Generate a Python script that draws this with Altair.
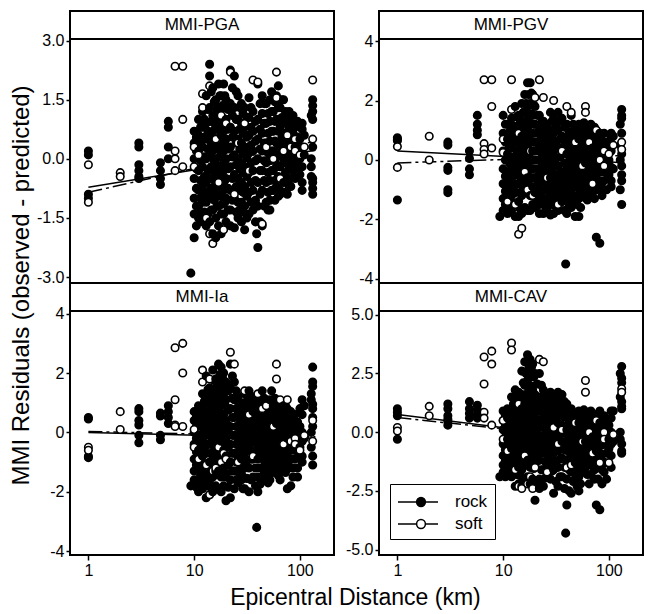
import altair as alt
import pandas as pd

FONT = "Liberation Sans"

# ---------------- data ----------------
# epicentral distance (km) of each record, grouped by column of points
distance_km = [
    1, 1, 1, 1, 1, 1,
    2, 2,
    3, 3, 3, 3, 3, 3,
    4.8, 4.8, 4.8, 4.8,
    5.7, 5.7, 5.7, 5.7,
    6.6, 6.6, 6.6, 6.6,
    7.8, 7.8, 7.8,
    9.3,
    10, 10, 10, 10, 10, 10, 10, 10, 10,
    11, 11, 11, 11, 11, 11, 11, 11,
    12, 12, 12, 12, 12, 12, 12, 12, 12,
    13, 13, 13, 13, 13, 13, 13, 13,
    14, 14, 14, 14, 14, 14, 14, 14, 14, 14,
    15, 15, 15, 15, 15, 15, 15, 15, 15,
    16, 16, 16, 16, 16, 16, 16, 16, 16,
    17, 17, 17, 17, 17, 17, 17, 17, 17,
    18, 18, 18, 18, 18, 18, 18, 18, 18,
    19, 19, 19, 19, 19, 19, 19, 19,
    20, 20, 20, 20, 20, 20, 20, 20,
    22, 22, 22, 22, 22, 22, 22, 22, 22,
    24, 24, 24, 24, 24, 24, 24, 24,
    26, 26, 26, 26, 26, 26, 26, 26,
    28, 28, 28, 28, 28, 28, 28,
    30, 30, 30, 30, 30, 30, 30, 30,
    33, 33, 33, 33, 33, 33, 33, 33,
    36, 36, 36, 36, 36, 36, 36,
    39,
    40, 40, 40, 40, 40, 40, 40, 40,
    44, 44, 44, 44, 44, 44, 44, 44,
    48, 48, 48, 48, 48, 48, 48,
    52, 52, 52, 52, 52, 52, 52,
    56, 56, 56, 56, 56, 56,
    60, 60, 60, 60, 60, 60, 60,
    65, 65, 65, 65, 65, 65, 65,
    70, 70, 70, 70, 70, 70,
    76, 76, 76, 76, 76, 76,
    82, 82, 82, 82, 82, 82,
    90, 90, 90, 90, 90, 90,
    100, 100, 100, 100,
    110, 110, 110,
    132, 132, 132, 132, 132, 132, 132, 132, 132, 132, 132,
]

# r = rock (filled), s = soft (open), same order as distance_km
site_code = (
    "rrrrss" "ss" "rrrrrr" "rrrr" "rrrr" "ssss" "sss" "r"
    "rrrrrrrss" "rrrrrrrs" "rrrrrrrss" "rrrrrrrs" "rrrrrrrrss"
    "rrrrrrrrs" "rrrrrrrrs" "rrrrrrrrs" "rrrrrrrrs" "rrrrrrrs"
    "rrrrrrrs" "rrrrrrrrs" "rrrrrrrs" "rrrrrrrs" "rrrrrrr"
    "rrrrrrrs" "rrrrrrrs" "rrrrrrs" "r" "rrrrrrrs" "rrrrrrrs"
    "rrrrrrs" "rrrrrrr" "rrrrrs" "rrrrrss" "rrrrrrs" "rrrrrs"
    "rrrrrs" "rrrrrs" "rrrrss" "rrrs" "rrs" "rrrrrrrrrss"
)

res_pga = [
    0.2, 0.1, -0.9, -1.0, -0.15, -1.1,
    -0.35, -0.45,
    0.4, 0.3, -0.15, -0.3, -0.45, -0.5,
    -0.1, -0.3, -0.5, -0.65,
    0.95, 0.8, 0.3, 0.0,
    2.35, 0.2, 0.0, -0.3,
    2.35, 1.0, -0.2,
    -2.9,
    0.7, 0.4, 0.0, -0.5, -1.0, -1.4, -2.0, 0.3, -0.2,
    1.0, 0.6, 0.2, -0.3, -0.8, -1.2, -1.5, 0.1,
    1.2, 0.8, 0.3, -0.2, -0.7, -1.1, -1.6, 1.65, 1.3,
    1.6, 0.9, 0.5, 0.0, -0.6, -1.1, -1.7, -1.5,
    2.4, 2.1, 1.3, 0.6, 0.1, -0.5, -1.0, -1.6, 1.85, -1.9,
    1.8, 1.1, 0.7, 0.2, -0.3, -0.8, -1.3, -1.9, -2.15,
    1.5, 1.0, 0.5, 0.0, -0.4, -0.9, -1.5, -2.0, 0.5,
    1.9, 1.3, 0.8, 0.3, -0.2, -0.7, -1.2, -1.7, -0.6,
    1.6, 1.1, 0.6, 0.1, -0.4, -0.9, -1.4, -1.9, 1.1,
    1.9, 1.3, 0.7, 0.2, -0.3, -0.8, -1.4, -1.8,
    1.5, 1.0, 0.5, 0.0, -0.5, -1.0, -1.6, 0.9,
    2.25, 1.4, 0.8, 0.3, -0.2, -0.8, -1.3, -1.7, 2.2,
    2.1, 1.3, 0.7, 0.1, -0.4, -1.0, -1.75, -0.9,
    1.6, 1.0, 0.5, 0.0, -0.5, -1.1, -1.5, 0.4,
    1.4, 0.9, 0.4, -0.1, -0.6, -1.1, -1.6,
    1.3, 0.8, 0.3, -0.2, -0.7, -1.2, -1.8, 0.9,
    1.55, 1.05, 0.6, 0.15, -0.35, -0.85, -1.4, -0.3,
    1.2, 0.7, 0.2, -0.3, -0.8, -1.3, 2.0,
    -1.9,
    1.9, 1.0, 0.5, 0.0, -0.6, -1.2, -2.25, 1.95,
    1.6, 1.15, 0.65, 0.2, -0.3, -0.8, -1.7, -1.65,
    1.4, 0.9, 0.4, -0.1, -0.6, -1.1, 0.3,
    1.5, 0.95, 0.45, -0.05, -0.55, -1.05, -1.3,
    1.2, 0.7, 0.2, -0.3, -0.8, 0.0,
    1.6, 1.0, 0.4, -0.2, -0.7, 2.2, 1.55,
    1.3, 0.8, 0.3, -0.2, -0.8, -0.9, -0.5,
    1.5, 0.9, 0.4, -0.1, -0.6, 0.2,
    1.0, 0.5, 0.0, -0.5, -0.9, 0.6,
    0.9, 0.4, -0.1, -0.5, -0.7, 0.3,
    0.8, 0.3, -0.2, -0.5, 0.5, 0.2,
    0.5, 0.0, -0.4, 0.1,
    0.6, 0.1, 0.3,
    1.5, 1.35, 1.2, 1.0, 0.3, -0.5, -0.6, -0.75, -0.9, 2.0, 0.5,
]

res_pgv = [
    0.75, 0.65, -1.35, 0.7, 0.45, -0.25,
    0.8, 0.0,
    0.6, 0.5, -0.25, -0.35, -1.0, -1.1,
    0.3, 0.05, -0.3, -0.5,
    1.5, 1.2, 1.0, 0.85,
    2.7, 0.55, 0.35, 0.2,
    2.7, 1.8, 0.4,
    -1.9,
    1.5, 0.9, 0.3, -0.3, -0.8, -1.3, -1.7, 0.7, 0.25,
    1.2, 0.7, 0.2, -0.4, -0.9, -1.3, -1.8, -1.4,
    1.4, 0.9, 0.4, -0.2, -0.7, -1.2, -1.7, 2.7, 1.7,
    1.8, 1.1, 0.6, 0.0, -0.5, -1.1, -1.9, -1.5,
    1.5, 1.0, 0.7, 0.2, -0.3, -0.8, -1.4, -1.9, 0.9, -2.5,
    1.9, 1.3, 0.8, 0.3, -0.2, -0.7, -1.2, -1.8, -2.3,
    2.2, 1.6, 1.0, 0.4, -0.1, -0.6, -1.1, -1.6, -0.4,
    2.6, 1.8, 1.1, 0.5, -0.1, -0.6, -1.1, -1.7, -1.0,
    2.6, 1.9, 1.2, 0.6, 0.0, -0.6, -1.2, -1.7, 0.3,
    2.2, 1.5, 0.9, 0.3, -0.3, -0.9, -1.5, -1.2,
    1.8, 1.2, 0.6, 0.0, -0.6, -1.1, -1.6, 2.1,
    1.5, 1.0, 0.5, 0.0, -0.5, -1.0, -1.5, -1.8, 2.7,
    1.3, 0.8, 0.3, -0.2, -0.7, -1.3, -1.8, 2.1,
    1.2, 0.7, 0.2, -0.3, -0.8, -1.3, -1.7, -0.6,
    1.6, 1.0, 0.4, -0.1, -0.6, -1.2, -1.85,
    1.4, 0.9, 0.3, -0.2, -0.8, -1.3, -1.8, 2.0,
    1.6, 1.0, 0.4, -0.2, -0.7, -1.2, -1.7, -1.5,
    1.4, 0.8, 0.2, -0.4, -0.9, -1.4, 0.3,
    -3.5,
    1.2, 0.7, 0.2, -0.3, -0.8, -1.3, -1.8, 1.8,
    1.5, 0.9, 0.4, -0.1, -0.6, -1.1, -1.6, 1.6,
    1.1, 0.6, 0.1, -0.4, -0.9, -1.9, 0.6,
    1.2, 0.7, 0.2, -0.3, -0.8, -1.3, -1.9,
    1.0, 0.5, 0.0, -0.5, -1.0, -0.2,
    0.9, 0.4, -0.1, -0.6, -1.1, 1.8, 1.6,
    1.0, 0.5, 0.0, -0.5, -1.0, -1.2, 0.6,
    0.9, 0.4, -0.1, -0.6, -1.1, -0.8,
    1.0, 0.5, 0.0, -0.5, -2.6, 1.0,
    0.9, 0.4, -0.1, -0.7, -2.8, 0.0,
    0.9, 0.3, -0.2, -0.7, 0.3, -0.2,
    0.5, 0.0, -0.5, 0.2,
    0.8, -0.3, 0.5,
    1.7, 1.5, 1.4, 0.9, 0.2, -0.2, -0.5, -0.7, -1.5, 0.6, 0.35,
]

res_ia = [
    0.5, 0.45, -0.85, -0.8, -0.5, -0.6,
    0.7, 0.1,
    0.8, 0.7, 0.4, 0.25, -0.1, -0.35,
    0.65, 0.55, -0.1, -0.25,
    0.9, 0.7, 0.5, 0.3,
    2.85, 1.1, 0.25, 0.2,
    3.0, 2.0, 0.2,
    -1.8,
    0.7, 0.4, 0.0, -0.4, -0.9, -1.3, -1.6, -0.5, 0.1,
    0.9, 0.5, -0.1, -0.6, -1.2, -1.7, -2.0, -0.9,
    1.3, 0.8, 0.3, -0.3, -0.8, -1.3, -1.9, 2.1, 1.7,
    1.9, 1.0, 0.4, -0.1, -0.7, -1.4, -2.2, -1.1,
    1.5, 1.2, 0.6, 0.1, -0.4, -1.0, -1.6, -2.1, 1.8, -2.1,
    2.1, 1.4, 0.8, 0.3, -0.3, -0.9, -1.5, -2.0, -1.3,
    1.8, 1.3, 0.7, 0.2, -0.3, -0.8, -1.3, -1.8, -1.2,
    2.3, 1.6, 1.0, 0.4, -0.2, -0.8, -1.3, -1.9, -0.5,
    2.2, 1.5, 0.9, 0.3, -0.3, -0.9, -1.5, -2.0, -1.0,
    2.0, 1.3, 0.6, 0.0, -0.6, -1.2, -1.8, -0.7,
    1.7, 1.1, 0.4, -0.2, -0.8, -1.4, -2.3, -0.9,
    2.3, 1.5, 0.8, 0.2, -0.4, -1.0, -1.6, -2.2, 2.7,
    1.7, 1.1, 0.5, -0.1, -0.7, -1.3, -1.9, 2.3,
    1.2, 0.7, 0.2, -0.3, -0.8, -1.3, -1.7, -1.0,
    1.0, 0.6, 0.1, -0.4, -0.9, -1.4, -1.6,
    1.3, 0.8, 0.3, -0.2, -0.7, -1.2, -1.9, 1.4,
    1.4, 0.9, 0.4, -0.1, -0.6, -1.2, -2.0, 0.6,
    1.2, 0.7, 0.2, -0.3, -0.9, -1.5, -0.8,
    -3.2,
    1.1, 0.6, 0.1, -0.4, -0.9, -1.5, -2.0, 1.3,
    1.4, 0.9, 0.3, -0.2, -0.7, -1.2, -1.6, 0.8,
    1.0, 0.5, 0.0, -0.5, -1.0, -1.5, 0.9,
    1.1, 0.6, 0.1, -0.4, -0.9, -1.4, -1.6,
    0.9, 0.4, -0.1, -0.6, -1.1, 0.2,
    0.8, 0.3, -0.2, -0.7, -1.2, 2.3, 1.8,
    0.7, 0.2, -0.3, -0.8, -1.3, -1.6, 1.1,
    0.9, 0.4, -0.1, -0.6, -1.1, -0.4,
    0.8, 0.3, -0.2, -0.7, -1.9, 1.1,
    0.7, 0.2, -0.3, -0.9, -1.8, -0.3,
    0.6, 0.1, -0.4, -0.9, -0.2, -0.4,
    0.8, 0.2, -0.5, -0.6,
    0.9, -0.2, -0.1,
    2.2, 1.7, 1.55, 0.95, 0.8, 0.5, 0.2, -0.8, -1.1, 0.4, -0.3,
]

res_cav = [
    1.0, 0.85, 0.7, -0.3, 0.2, 0.05,
    1.1, 0.7,
    1.2, 1.0, 0.7, 0.45, 0.3, 0.55,
    1.3, 1.0, 0.8, 0.6,
    1.15, 0.95, 0.75, 0.6,
    3.2, 2.05, 0.85, 0.6,
    3.45, 2.9, 0.3,
    -1.9,
    0.9, 0.5, 0.1, -0.5, -1.0, -1.4, -1.7, -0.3, 0.5,
    1.0, 0.6, 0.2, -0.3, -0.9, -1.4, -1.8, -0.8,
    1.5, 0.9, 0.4, -0.2, -0.7, -1.2, -1.9, 3.8, 3.5,
    1.8, 1.1, 0.5, -0.1, -0.6, -1.3, -2.3, -1.6,
    1.7, 1.3, 0.8, 0.3, -0.2, -0.8, -1.5, -2.2, 1.2, -2.3,
    2.6, 1.6, 1.0, 0.4, -0.3, -0.9, -1.6, -2.3, -2.4,
    3.0, 2.0, 1.2, 0.5, -0.1, -0.7, -1.4, -2.0, -1.0,
    3.3, 2.2, 1.4, 0.7, 0.0, -0.6, -1.2, -1.9, -2.2,
    3.1, 2.4, 1.5, 0.8, 0.0, -0.7, -1.5, -2.2, -1.9,
    2.9, 1.8, 1.0, 0.3, -0.4, -1.1, -2.0, -2.4,
    2.5, 1.6, 0.8, 0.1, -0.7, -1.4, -2.9, -1.5,
    2.5, 1.5, 0.9, 0.2, -0.5, -1.2, -2.0, -2.4, 3.1,
    1.8, 1.2, 0.5, -0.2, -0.9, -1.6, -2.3, 3.0,
    1.6, 1.0, 0.4, -0.2, -0.8, -1.5, -1.9, -1.7,
    1.7, 1.1, 0.5, -0.1, -0.7, -1.3, -2.0,
    1.5, 0.9, 0.3, -0.3, -0.9, -1.6, -2.6, 0.2,
    1.7, 1.1, 0.4, -0.2, -0.8, -1.5, -2.3, -0.5,
    1.6, 1.0, 0.3, -0.4, -1.1, -1.9, 0.1,
    -4.3,
    1.2, 0.7, 0.1, -0.5, -1.2, -2.0, -3.1, -1.5,
    1.0, 0.5, 0.0, -0.5, -1.0, -1.7, -2.6, -1.4,
    0.8, 0.3, -0.2, -0.7, -1.3, -2.0, 0.4,
    0.9, 0.4, -0.1, -0.6, -1.2, -1.9, -2.5,
    0.7, 0.2, -0.3, -0.8, -1.4, -0.4,
    0.6, 0.1, -0.4, -0.9, -1.5, 2.2, 1.7,
    0.7, 0.2, -0.3, -0.8, -1.4, -2.2, 0.0,
    0.8, 0.3, -0.2, -0.7, -1.3, -0.9,
    0.7, 0.2, -0.3, -0.8, -3.1, 0.5,
    0.9, 0.4, -0.2, -0.9, -3.3, -1.3,
    0.7, 0.2, -0.5, -1.7, 0.0, -0.3,
    0.3, -0.3, -0.7, -1.3,
    0.9, -0.4, -0.1,
    2.8, 2.3, 2.1, 1.3, 1.1, 1.0, -0.5, -0.8, -0.9, 1.85, 1.7,
]

# further rock records inside the dense cloud (drawn underneath the others)
extra_distance_km = [
    10.5, 10.5, 10.5, 10.5, 10.5, 10.5,
    11.5, 11.5, 11.5, 11.5, 11.5, 11.5,
    12.5, 12.5, 12.5, 12.5, 12.5, 12.5,
    13.5, 13.5, 13.5, 13.5, 13.5, 13.5,
    14.5, 14.5, 14.5, 14.5, 14.5, 14.5,
    15.5, 15.5, 15.5, 15.5, 15.5, 15.5,
    16.5, 16.5, 16.5, 16.5, 16.5, 16.5,
    17.5, 17.5, 17.5, 17.5, 17.5, 17.5,
    18.5, 18.5, 18.5, 18.5, 18.5, 18.5,
    19.5, 19.5, 19.5, 19.5, 19.5, 19.5,
    21, 21, 21, 21, 21, 21,
    23, 23, 23, 23, 23, 23,
    25, 25, 25, 25, 25, 25,
    27, 27, 27, 27, 27, 27,
    29, 29, 29, 29, 29, 29,
    31.5, 31.5, 31.5, 31.5, 31.5, 31.5,
    34.5, 34.5, 34.5, 34.5, 34.5, 34.5,
    38, 38, 38, 38, 38, 38,
    42, 42, 42, 42, 42, 42,
    46, 46, 46, 46, 46, 46,
    50, 50, 50, 50, 50, 50,
    54, 54, 54, 54, 54, 54,
    58, 58, 58, 58, 58, 58,
    62.5, 62.5, 62.5, 62.5, 62.5, 62.5,
    67.5, 67.5, 67.5, 67.5, 67.5, 67.5,
    73, 73, 73, 73, 73, 73,
    79, 79, 79, 79, 79, 79,
    86, 86, 86, 86, 86, 86,
    95, 95, 95, 95, 95, 95,
    105, 105, 105, 105, 105, 105,
    128, 128, 128, 128,
]

extra_pga = [
    0.55, 0.2, -0.25, -0.75, -1.2, -1.7,
    0.8, 0.4, -0.05, -0.55, -1.0, -1.35,
    1.0, 0.55, 0.05, -0.45, -0.9, -1.35,
    1.25, 0.7, 0.25, -0.3, -0.85, -1.4,
    1.7, 0.95, 0.35, -0.2, -0.75, -1.3,
    1.45, 0.9, 0.45, -0.05, -0.55, -1.05,
    1.25, 0.75, 0.25, -0.2, -0.65, -1.2,
    1.6, 1.05, 0.55, 0.05, -0.45, -0.95,
    1.35, 0.85, 0.35, -0.15, -0.65, -1.15,
    1.6, 1.0, 0.45, -0.05, -0.55, -1.1,
    1.25, 0.75, 0.25, -0.25, -0.75, -1.3,
    1.8, 1.1, 0.55, 0.05, -0.5, -1.05,
    1.7, 1.0, 0.4, -0.15, -0.7, -1.35,
    1.3, 0.75, 0.25, -0.25, -0.8, -1.3,
    1.15, 0.65, 0.15, -0.35, -0.85, -1.35,
    1.05, 0.55, 0.05, -0.45, -0.95, -1.5,
    1.3, 0.8, 0.35, -0.1, -0.6, -1.1,
    0.95, 0.45, -0.05, -0.55, -1.05, -1.6,
    1.4, 0.75, 0.25, -0.3, -0.9, -1.6,
    1.4, 0.9, 0.4, -0.05, -0.55, -1.2,
    1.15, 0.65, 0.15, -0.35, -0.85, -1.3,
    1.2, 0.7, 0.2, -0.3, -0.8, 1.7,
    1.45, 0.95, 0.45, -0.05, -0.55, -1.05,
    1.3, 0.7, 0.1, -0.45, -0.95, 1.85,
    1.05, 0.55, 0.05, -0.5, 1.5, 0.15,
    1.2, 0.65, 0.15, -0.35, -0.85, 0.0,
    0.75, 0.25, -0.25, -0.7, 1.2, 0.4,
    0.65, 0.15, -0.3, 1.1, 0.5, -0.05,
    0.55, 0.05, -0.35, 0.95, 0.4, -0.1,
    0.75, 0.3, -0.2, -0.6, 0.9, -0.8,
    1.1, 0.0, -0.2, -0.45,
]

extra_pgv = [
    1.2, 0.6, 0.0, -0.55, -1.05, -1.5,
    0.95, 0.45, -0.1, -0.65, -1.1, -1.55,
    1.15, 0.65, 0.1, -0.45, -0.95, -1.45,
    1.45, 0.85, 0.3, -0.25, -0.8, -1.5,
    1.25, 0.45, -0.05, -0.55, -1.1, -1.65,
    1.6, 1.05, 0.55, 0.05, -0.45, -0.95,
    1.9, 1.3, 0.7, 0.15, -0.35, -0.85,
    2.2, 1.45, 0.8, 0.2, -0.35, -0.85,
    2.25, 1.55, 0.9, 0.3, -0.3, -0.9,
    1.85, 1.2, 0.6, 0.0, -0.6, -1.2,
    1.5, 0.9, 0.3, -0.3, -0.85, -1.35,
    1.25, 0.75, 0.25, -0.25, -0.75, -1.25,
    1.05, 0.55, 0.05, -0.45, -1.0, -1.55,
    0.95, 0.45, -0.05, -0.55, -1.05, -1.5,
    1.3, 0.7, 0.15, -0.35, -0.9, -1.5,
    1.15, 0.6, 0.05, -0.5, -1.05, -1.55,
    1.3, 0.7, 0.1, -0.45, -0.95, -1.45,
    1.1, 0.5, -0.1, -0.65, -1.15, -1.7,
    0.95, 0.45, -0.05, -0.55, -1.05, -1.55,
    1.2, 0.65, 0.15, -0.35, -0.85, -1.35,
    0.85, 0.35, -0.15, -0.65, -1.2, -1.5,
    0.95, 0.45, -0.05, -0.55, -1.05, -1.6,
    1.25, 0.75, 0.25, -0.25, -0.75, -1.25,
    1.15, 0.65, 0.15, -0.35, -0.85, -1.35,
    0.75, 0.25, -0.25, -0.75, 1.2, -0.1,
    0.65, 0.15, -0.35, -0.85, 1.1, -1.3,
    0.75, 0.25, -0.25, -0.75, -1.0, 0.6,
    0.65, 0.15, -0.4, -0.95, 0.3, -1.2,
    0.6, 0.05, -0.45, -1.0, 0.4, -0.2,
    0.75, 0.3, -0.25, -0.7, 0.9, -0.9,
    1.2, 0.5, 0.0, -1.0,
]

extra_ia = [
    0.55, 0.2, -0.2, -0.65, -1.1, -1.85,
    0.7, 0.2, -0.35, -0.9, -1.45, -1.85,
    1.05, 0.55, 0.0, -0.55, -1.05, -1.6,
    1.45, 0.7, 0.15, -0.4, -1.05, -1.8,
    0.9, 0.35, -0.15, -0.7, -1.3, -1.85,
    1.75, 1.1, 0.55, 0.0, -0.6, -1.2,
    1.55, 1.0, 0.45, -0.05, -0.55, -1.05,
    1.95, 1.3, 0.7, 0.1, -0.5, -1.05,
    1.85, 1.2, 0.6, 0.0, -0.6, -1.2,
    1.65, 0.95, 0.3, -0.3, -0.9, -1.5,
    1.4, 0.75, 0.1, -0.5, -1.1, -1.85,
    1.9, 1.15, 0.5, -0.1, -0.7, -1.3,
    1.4, 0.8, 0.2, -0.4, -1.0, -1.6,
    0.95, 0.45, -0.05, -0.55, -1.05, -1.5,
    0.8, 0.35, -0.15, -0.65, -1.15, -1.9,
    1.05, 0.55, 0.05, -0.45, -0.95, -1.55,
    1.15, 0.65, 0.15, -0.35, -0.9, -1.6,
    0.95, 0.45, -0.05, -0.6, -1.2, -1.8,
    0.85, 0.35, -0.15, -0.65, -1.2, -1.75,
    1.15, 0.6, 0.05, -0.45, -0.95, -1.4,
    0.75, 0.25, -0.25, -0.75, -1.25, -1.7,
    0.85, 0.35, -0.15, -0.65, -1.15, 1.4,
    1.15, 0.65, 0.15, -0.35, -0.85, -1.35,
    1.05, 0.55, 0.05, -0.45, -0.95, -1.45,
    0.45, -0.05, -0.55, -1.05, 0.95, -0.3,
    0.65, 0.15, -0.35, -0.85, -1.35, 0.9,
    0.55, 0.05, -0.45, -0.95, -1.2, 0.6,
    0.45, -0.05, -0.6, -1.2, -1.5, 0.3,
    0.35, -0.15, -0.65, -1.2, -1.5, 0.2,
    0.6, 0.0, -0.3, -0.8, 1.1, -1.0,
    1.3, 1.1, 0.0, -0.5,
]

extra_cav = [
    0.7, 0.3, -0.2, -0.75, -1.2, -1.9,
    0.8, 0.4, -0.05, -0.6, -1.15, -1.6,
    1.2, 0.65, 0.1, -0.45, -0.95, -1.55,
    1.45, 0.8, 0.2, -0.35, -0.95, -1.8,
    1.05, 0.55, 0.05, -0.5, -1.15, -1.85,
    2.1, 1.3, 0.7, 0.05, -0.6, -1.25,
    2.5, 1.6, 0.85, 0.2, -0.4, -1.05,
    2.75, 1.8, 1.05, 0.35, -0.3, -0.9,
    2.75, 1.95, 1.15, 0.4, -0.35, -1.1,
    2.35, 1.4, 0.65, -0.05, -0.75, -1.55,
    2.05, 1.2, 0.45, -0.3, -1.05, -2.1,
    2.0, 1.2, 0.55, -0.15, -0.85, -1.6,
    1.5, 0.85, 0.15, -0.55, -1.25, -1.95,
    1.3, 0.7, 0.1, -0.5, -1.15, -1.7,
    1.4, 0.8, 0.2, -0.4, -1.0, -1.65,
    1.2, 0.6, 0.0, -0.6, -1.25, -2.1,
    1.4, 0.75, 0.1, -0.5, -1.15, -1.9,
    1.3, 0.65, -0.05, -0.75, -1.5, -2.4,
    0.95, 0.4, -0.2, -0.85, -1.6, -2.5,
    0.75, 0.25, -0.25, -0.75, -1.35, -2.1,
    0.55, 0.05, -0.45, -1.0, -1.65, -2.3,
    0.65, 0.15, -0.35, -0.9, -1.55, -2.2,
    0.95, 0.45, -0.05, -0.55, -1.1, -1.7,
    0.85, 0.35, -0.15, -0.65, -1.2, -1.8,
    0.45, -0.05, -0.55, -1.1, -1.8, 0.9,
    0.55, 0.05, -0.45, -1.0, -1.6, -2.0,
    0.45, -0.05, -0.55, -1.1, -1.5, -2.0,
    0.65, 0.1, -0.55, -1.2, -1.6, -2.2,
    0.45, -0.15, -0.9, -1.3, -2.0, 0.3,
    0.6, 0.0, -0.5, -1.0, 0.9, -1.5,
    2.5, 1.5, 0.0, -0.3,
]

# fitted trend lines: value at the two ends of the distance range
trend_km = [1, 140]
pga_rock_fit = [-0.72, 0.22]
pga_soft_fit = [-0.85, 0.45]
pgv_rock_fit = [0.30, -0.09]
pgv_soft_fit = [-0.10, 0.15]
ia_rock_fit = [0.0, -0.20]
ia_soft_fit = [0.03, -0.15]
cav_rock_fit = [0.75, -0.45]
cav_soft_fit = [0.62, -0.40]

panel_names = ["MMI-PGA", "MMI-PGV", "MMI-Ia", "MMI-CAV"]
site_domain = ["rock", "soft"]
x_tick_values = [1, 10, 100]

# ---------------- build ----------------
site = ["rock" if c == "r" else "soft" for c in site_code]
n = len(distance_km)
assert n == len(site) == len(res_pga) == len(res_pgv) == len(res_ia) == len(res_cav), (
    n, len(site), len(res_pga), len(res_pgv), len(res_ia), len(res_cav))
m = len(extra_distance_km)
assert m == len(extra_pga) == len(extra_pgv) == len(extra_ia) == len(extra_cav), (
    m, len(extra_pga), len(extra_pgv), len(extra_ia), len(extra_cav))

extra = pd.DataFrame({
    "dist": extra_distance_km, "site": ["rock"] * m,
    "pga": extra_pga, "pgv": extra_pgv, "ia": extra_ia, "cav": extra_cav,
})
main = pd.DataFrame({
    "dist": distance_km, "site": site,
    "pga": res_pga, "pgv": res_pgv, "ia": res_ia, "cav": res_cav,
})
points = pd.concat([extra, main], ignore_index=True)

W, H, SH = 264, 244, 28  # panel width, data-area height, header strip height

# legend key: a line with a circle on it
SYMBOL_PATH = ("M-2,0L-0.14,0M0.74,0L2,0"
               "M0.74,0A0.44,0.44,0,1,1,-0.14,0A0.44,0.44,0,1,1,0.74,0Z")


def label_expr(fmt):
    return f"(datum.value < 0 ? '-' : '') + format(abs(datum.value), '{fmt}')"


def panel(name, field, ydomain, yticks, fmt, rock_fit, soft_fit, row, col, with_legend=False):
    lo, hi = ydomain
    per_px = (hi - lo) / H
    top = hi + SH * per_px          # the header strip lives above the data area
    xs = alt.Scale(type="log", domain=[0.67, 210], nice=False)
    ys = alt.Scale(domain=[lo, top], nice=False, zero=False)

    if row == 1:
        xkw = dict(values=x_tick_values, format="d", tickSize=5, labelPadding=2,
                   grid=False, domain=False, labelFontSize=16)
        if col == 0:
            xkw.update(title="Epicentral Distance (km)", titleX=285, titleY=42,
                       titleAlign="center", titleBaseline="middle",
                       titleFontSize=23, titleFontWeight="normal")
        else:
            xkw.update(title=None)
        xaxis = alt.Axis(**xkw)
    else:
        xaxis = None

    ykw = dict(values=yticks, labelExpr=label_expr(fmt), tickSize=4, labelPadding=2,
               grid=False, domain=False, labelFontSize=16)
    if row == 0 and col == 0:
        ykw.update(title="MMI Residuals (observed - predicted)", titleX=-49, titleY=274,
                   titleAngle=270, titleAlign="center", titleBaseline="middle",
                   titleFontSize=24, titleFontWeight="normal")
    else:
        ykw.update(title=None)
    yaxis = alt.Axis(**ykw)

    x_enc = alt.X("dist:Q", scale=xs, axis=xaxis)

    rock_line = alt.Chart(pd.DataFrame({"dist": trend_km, "res": rock_fit})).mark_line(
        color="black", strokeWidth=1.5
    ).encode(x=x_enc, y=alt.Y("res:Q", scale=ys, axis=yaxis))
    soft_line = alt.Chart(pd.DataFrame({"dist": trend_km, "res": soft_fit})).mark_line(
        color="black", strokeWidth=1.5, strokeDash=[14, 4, 3, 4]
    ).encode(x=x_enc, y=alt.Y("res:Q", scale=ys, axis=yaxis))

    if with_legend:
        fill = alt.Fill(
            "site:N",
            scale=alt.Scale(domain=site_domain, range=["black", "white"]),
            legend=alt.Legend(
                title=None, orient="none", legendX=11, legendY=SH + 173,
                symbolType=SYMBOL_PATH, symbolSize=400, symbolOffset=10, labelOffset=26,
                labelFont=FONT, labelFontSize=17, labelColor="black",
                padding=7, rowPadding=3, strokeColor="black",
                symbolStrokeColor="black", symbolStrokeWidth=1.5, symbolOpacity=1,
            ),
        )
    else:
        fill = alt.condition(alt.datum.site == "rock", alt.value("black"), alt.value("white"))

    pts = alt.Chart(points).mark_circle(size=56, opacity=1, stroke="black", strokeWidth=1.6).encode(
        x=x_enc,
        y=alt.Y(f"{field}:Q", scale=ys, axis=yaxis),
        fill=fill,
    )

    header = pd.DataFrame({"panel": [name], "sep": [hi], "mid": [hi + SH * per_px / 2]})
    sep = alt.Chart(header).mark_rule(color="black", strokeWidth=2).encode(
        y=alt.Y("sep:Q", scale=ys, axis=yaxis)
    )
    label = alt.Chart(header).mark_text(font=FONT, fontSize=17, color="black", baseline="middle").encode(
        y=alt.Y("mid:Q", scale=ys, axis=yaxis), text="panel:N"
    )

    return alt.layer(rock_line, soft_line, pts, sep, label).properties(width=W, height=H + SH)


p_pga = panel(panel_names[0], "pga", [-3.15, 3.04], [-3, -1.5, 0, 1.5, 3], ".1f",
              pga_rock_fit, pga_soft_fit, 0, 0)
p_pgv = panel(panel_names[1], "pgv", [-4.14, 4.07], [-4, -2, 0, 2, 4], "d",
              pgv_rock_fit, pgv_soft_fit, 0, 1)
p_ia = panel(panel_names[2], "ia", [-4.13, 4.09], [-4, -2, 0, 2, 4], "d",
             ia_rock_fit, ia_soft_fit, 1, 0)
p_cav = panel(panel_names[3], "cav", [-5.23, 5.16], [-5, -2.5, 0, 2.5, 5], ".1f",
              cav_rock_fit, cav_soft_fit, 1, 1, with_legend=True)

chart = alt.concat(
    p_pga, p_pgv, p_ia, p_cav, columns=2,
    spacing={"row": 0, "column": 45}, bounds="flush",
).resolve_scale(
    fill="independent"
).properties(
    padding={"left": 0, "top": 2, "right": 0, "bottom": 0},
    background="white",
).configure_view(
    stroke="black", strokeWidth=2
).configure_axis(
    labelFont=FONT, titleFont=FONT, labelColor="black", titleColor="black",
    tickColor="black", tickWidth=1.5,
).configure_text(font=FONT)

chart.save("out.html", embed_options={"renderer": "svg", "actions": False})
